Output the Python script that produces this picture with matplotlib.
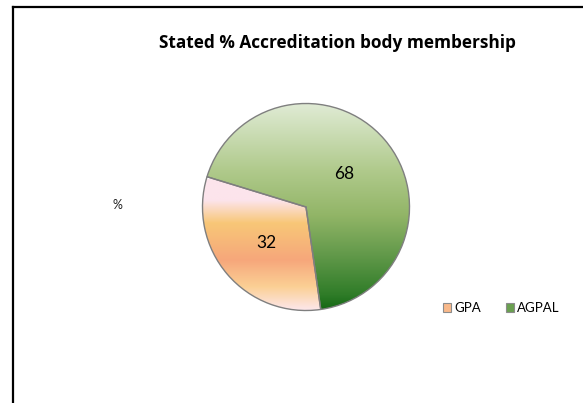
import numpy as np
import matplotlib
matplotlib.use("Agg")
import matplotlib.pyplot as plt
from matplotlib.colors import LinearSegmentedColormap
from matplotlib.patches import Patch
from matplotlib.lines import Line2D

# ---- data ----
labels = ["GPA", "AGPAL"]
values = [32, 68]
title = "Stated % Accreditation body membership"
side_label = "%"

plt.rcParams['font.family'] = ['Lato', 'DejaVu Sans']

W, H = 583, 403
fig = plt.figure(figsize=(W / 100, H / 100), dpi=100)
ax = fig.add_axes([0, 0, 1, 1])

cx, cy, r = 306, H - 207, 103.5
wedges, texts = ax.pie(values, center=(cx, cy), radius=r, startangle=163,
                       counterclock=True,
                       wedgeprops=dict(edgecolor='#7f7f7f', linewidth=1.0))
ax.set_xlim(0, W)
ax.set_ylim(0, H)
ax.set_aspect('equal')
ax.axis('off')

# gradient fills (pixel y positions from top, colours)
grad_gpa = [(179, '#fde4ec'), (200, '#fce4ec'), (223, '#f8c777'), (260, '#f6a77b'),
            (287, '#fbd095'), (311, '#fde8ee')]
grad_agpal = [(103, '#e0ebd5'), (170, '#b0ca8c'), (215, '#92b567'), (255, '#62994a'),
              (295, '#2f7c28'), (311, '#126612')]

def fill_gradient(wedge, stops):
    y0, y1 = stops[0][0], stops[-1][0]
    pos = [(s[0] - y0) / (y1 - y0) for s in stops]
    cmap = LinearSegmentedColormap.from_list('g', list(zip(pos, [s[1] for s in stops])))
    grad = np.linspace(0, 1, 256).reshape(-1, 1)
    im = ax.imshow(grad, cmap=cmap, aspect='auto',
                   extent=(cx - r - 2, cx + r + 2, H - y1, H - y0),
                   origin='upper', zorder=wedge.get_zorder() - 0.1)
    im.set_clip_path(wedge)
    wedge.set_facecolor('none')

fill_gradient(wedges[0], grad_gpa)
fill_gradient(wedges[1], grad_agpal)
ax.set_xlim(0, W)
ax.set_ylim(0, H)

# value labels
ax.text(266, H - 243, str(values[0]), ha='center', va='center', fontsize=12.5, color='black')
ax.text(344, H - 174, str(values[1]), ha='center', va='center', fontsize=12.5, color='black')

# title and side label
ax.text(337, H - 43, title, ha='center', va='center', fontsize=12.4, fontweight='bold',
        family=['Open Sans', 'DejaVu Sans'])
ax.text(117, H - 205, side_label, ha='center', va='center', fontsize=9, color='#222222')

# legend
handles = [Patch(facecolor='#f9b98a', edgecolor='#8c8c8c', linewidth=0.8),
           Patch(facecolor='#6aa050', edgecolor='#8c8c8c', linewidth=0.8)]
ax.legend(handles, labels, ncol=2, frameon=False, fontsize=9.5,
          handlelength=0.65, handleheight=0.65, handletextpad=0.2,
          columnspacing=1.9, loc='center left',
          bbox_to_anchor=(431 / W, 1 - 308 / H), bbox_transform=fig.transFigure)

# outer frame (partial border)
fig.add_artist(Line2D([13.3 / W, 13.3 / W], [0, 1 - 7.3 / H], color='black', lw=1.6,
                      transform=fig.transFigure, solid_capstyle='projecting'))
fig.add_artist(Line2D([13.3 / W, 1], [1 - 7.3 / H, 1 - 7.3 / H], color='black', lw=1.6,
                      transform=fig.transFigure, solid_capstyle='projecting'))

fig.savefig('out.png', dpi=100, facecolor='white')
